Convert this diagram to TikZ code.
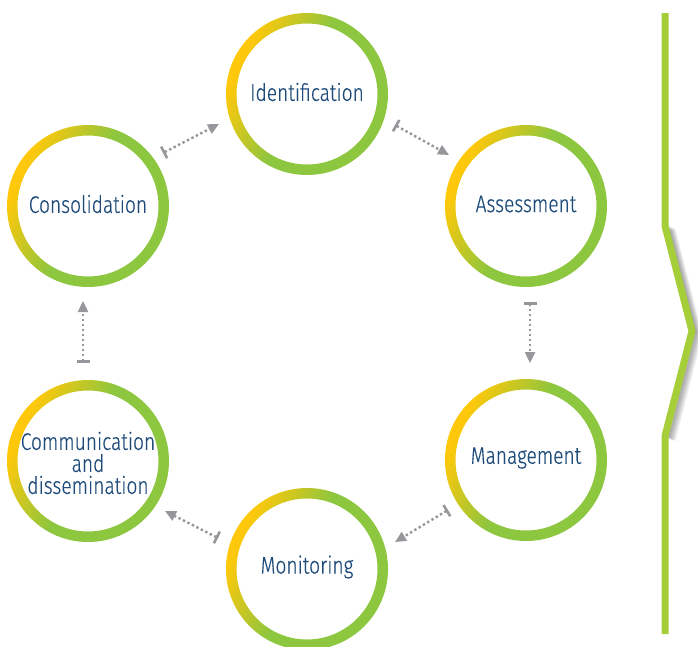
\documentclass[tikz,border=0pt]{standalone}
\usepackage{fontspec}
\newfontfamily\lblfont[FakeStretch=0.80, FakeBold=0.35, UprightFont=* Light]{Fira Sans}
\usetikzlibrary{arrows.meta,calc}
\definecolor{ringY}{RGB}{255,200,10}
\definecolor{ringG}{RGB}{141,198,63}
\definecolor{barG}{RGB}{166,206,57}
\definecolor{txtB}{RGB}{30,75,122}
\definecolor{arrG}{RGB}{150,150,155}
\pgfdeclarehorizontalshading{ringshade}{100bp}{color(0bp)=(ringY); color(27bp)=(ringY); color(48bp)=(ringG); color(100bp)=(ringG)}
\tikzset{
  stage/.style={circle, minimum size=162pt, inner sep=0pt, align=center, text=txtB,
    font=\lblfont\fontsize{24}{22}\selectfont},
  ring/.style={shading=ringshade, shading angle=-25, even odd rule},
  flow/.style={draw=arrG, line width=2.4pt, dash pattern=on 2.4pt off 2.6pt,
    {Bar[width=13pt,line width=2.6pt]}-{Triangle[length=11pt,width=10pt]}},
  chevron/.style={draw=barG, line width=7pt, line join=miter},
}
\begin{document}
\begin{tikzpicture}[x=1pt,y=-1pt]
\useasboundingbox (0,0) rectangle (698,646);
% nodes
\node[stage] (id) at (307,92) {Identification};
\node[stage] (ass) at (526,204) {Assessment};
\node[stage] (man) at (526,458) {Management};
\node[stage] (mon) at (307,567) {Monitoring};
\node[stage] (comm) at (88,463) {Communication\\and\\dissemination};
\node[stage] (cons) at (88,204) {Consolidation};
% rings
\foreach \n/\dy in {id/2,ass/2,man/2,mon/2,comm/-2,cons/2}{
  \shade[ring] ($(\n.center)+(0,\dy)$) circle[radius=81pt] ($(\n.center)+(0,\dy)$) circle[radius=70.5pt];
}
% connectors
\draw[flow] ($(cons)+(75,-51)$) -- ($(id)+(-88,32)$);
\draw[flow] ($(id)+(88,33)$) -- ($(ass)+(-77,-49)$);
\draw[flow] ($(ass)+(4,98)$) -- ($(man)+(4,-95)$);
\draw[flow] ($(man)+(-78,52)$) -- ($(mon)+(88,-25)$);
\draw[flow] ($(mon)+(-89,-29)$) -- ($(comm)+(77,48)$);
\draw[flow] ($(comm)+(-5,-100)$) -- ($(cons)+(-5,97)$);
% chevron bar with shadow
\foreach \i in {1,...,8}{
  \draw[black, opacity=0.05, line width=7pt, line join=miter]
    ($(665,226)+(\i*0.9,\i*0.5)$) -- ($(692,331)+(\i*0.9,\i*0.5)$) -- ($(665,436)+(\i*0.9,\i*0.5)$);
}
\draw[chevron] (665,13) -- (665,226) -- (692,331) -- (665,436) -- (665,634);
\end{tikzpicture}
\end{document}
